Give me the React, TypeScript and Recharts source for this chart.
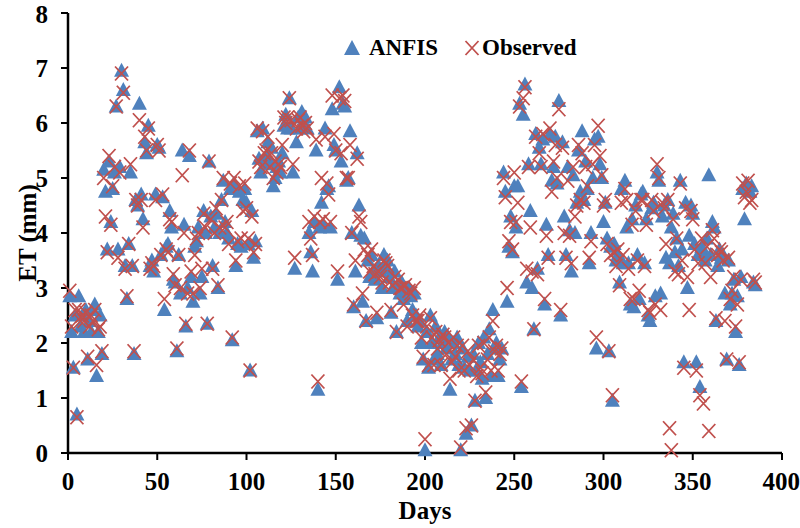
import { Scatter, ScatterChart, XAxis, YAxis } from "recharts"

// ET (mm) per day
const anfis = [
  2.85, 2.2, 1.55, 2.5, 0.7, 2.85, 2.3, 2.5, 2.2, 2.6,
  1.7, 2.4, 2.2, 2.6, 2.7, 1.4, 2.2, 2.5, 1.8, 5.15,
  4.75, 3.7, 5.3, 4.2, 4.8, 5.1, 6.3, 3.7, 5.2, 6.95,
  6.6, 3.4, 2.8, 3.8, 5.1, 3.4, 1.8, 4.6, 4.5, 6.35,
  4.7, 4.25, 5.65, 5.45, 5.95, 3.4, 3.5, 3.3, 4.7, 5.6,
  5.55, 3.6, 4.65, 2.6, 3.75, 3.8, 4.4, 4.1, 3.15, 3.1,
  1.85, 3.6, 2.9, 5.5, 4.15, 2.3, 3.0, 5.4, 3.2, 2.75,
  3.75, 3.85, 4.1, 2.9, 3.2, 4.4, 4.0, 2.35, 5.3, 4.3,
  3.4, 4.1, 4.35, 3.0, 4.0, 4.6, 4.95, 4.2, 4.0, 3.9,
  4.8, 2.05, 4.9, 3.4, 3.8, 4.75, 3.75, 4.6, 4.8, 4.55,
  3.8, 1.5, 4.4, 3.55, 3.85, 5.85, 5.35, 5.1, 5.9, 5.25,
  5.4, 5.65, 5.3, 5.55, 4.85, 5.0, 5.2, 5.3, 5.1, 5.45,
  5.95, 6.15, 5.9, 6.45, 5.9, 5.1, 3.35, 5.65, 6.1, 5.9,
  6.2, 6.0, 6.1, 5.9, 4.0, 3.65, 3.3, 4.2, 5.5, 1.15,
  4.1, 4.55, 4.15, 5.9, 4.8, 4.85, 4.1, 6.25, 5.6, 5.5,
  3.15, 6.65, 5.3, 6.35, 6.3, 4.95, 5.0, 5.85, 4.0, 2.65,
  3.3, 5.45, 4.5, 3.95, 2.75, 3.9, 2.4, 3.5, 3.2, 3.6,
  3.3, 3.15, 2.45, 3.4, 3.3, 3.0, 3.6, 3.35, 3.5, 3.2,
  2.55, 3.0, 3.3, 2.2, 3.05, 2.9, 3.1, 2.8, 2.95, 2.4,
  3.0, 2.85, 2.6, 2.9, 2.5, 2.3, 2.4, 2.0, 1.7, 0.05,
  2.2, 1.55, 2.5, 2.0, 1.7, 2.3, 1.8, 2.1, 1.6, 2.0,
  2.2, 1.9, 2.1, 1.15, 1.7, 2.0, 1.8, 2.1, 1.6, 0.05,
  1.9, 1.55, 0.35, 1.75, 1.5, 0.5, 1.8, 0.95, 1.5, 2.0,
  1.65, 1.35, 2.1, 1.0, 1.8, 2.25, 1.4, 2.6, 1.9, 2.0,
  1.4, 1.7, 1.9, 5.1, 4.75, 2.75, 3.75, 4.3, 3.65, 4.85,
  4.1, 4.85, 6.35, 1.2, 6.15, 6.7, 3.1, 5.25, 4.4, 3.0,
  2.25, 5.8, 3.35, 5.55, 5.25, 5.7, 2.7, 4.15, 3.6, 5.8,
  4.95, 5.2, 5.75, 4.9, 6.4, 2.5, 5.65, 4.3, 3.6, 5.2,
  4.05, 3.3, 5.05, 4.0, 4.55, 5.5, 4.75, 5.85, 4.6, 5.3,
  4.8, 3.45, 4.0, 5.0, 5.7, 1.9, 5.75, 5.25, 5.0, 4.2,
  4.55, 3.9, 1.85, 3.75, 0.95, 3.8, 3.5, 3.6, 3.1, 4.8,
  3.45, 4.95, 4.1, 3.45, 2.7, 4.25, 2.65, 4.5, 3.6, 2.8,
  4.7, 4.75, 3.45, 4.25, 2.5, 2.4, 4.45, 4.55, 2.85, 5.1,
  4.95, 2.9, 4.3, 4.5, 3.55, 4.6, 3.45, 4.1, 4.35, 3.65,
  3.9, 3.4, 4.95, 3.7, 1.65, 4.55, 3.0, 3.95, 4.5, 4.35,
  3.8, 1.65, 3.6, 1.2, 3.75, 3.65, 3.5, 3.9, 5.05, 3.6,
  4.2, 4.1, 2.4, 3.4, 3.7, 3.55, 3.6, 2.9, 1.7, 3.5,
  2.7, 2.9, 3.15, 2.2, 2.85, 1.6, 3.2, 4.8, 4.25, 4.9,
  4.8, 4.75, 4.85, 3.1, 3.05,
]

const observed = [
  2.95, 2.3, 1.55, 2.6, 0.65, 2.6, 2.4, 2.5, 2.4, 2.55,
  1.75, 2.3, 2.5, 2.4, 2.6, 1.6, 2.25, 2.3, 1.85, 5.0,
  4.3, 3.65, 5.4, 4.15, 4.85, 5.2, 6.3, 3.55, 5.1, 6.9,
  6.55, 3.35, 2.85, 3.8, 5.25, 3.4, 1.85, 4.6, 4.5, 6.05,
  4.6, 4.1, 5.75, 5.5, 5.9, 3.35, 3.45, 3.4, 4.6, 5.6,
  5.5, 3.6, 4.7, 2.8, 3.7, 3.65, 4.25, 4.2, 3.25, 3.05,
  1.9, 3.6, 3.0, 5.05, 4.0, 2.35, 2.9, 5.5, 3.3, 2.9,
  3.6, 3.9, 4.0, 3.0, 3.35, 4.35, 4.1, 2.35, 5.3, 4.25,
  3.35, 4.0, 4.45, 3.05, 4.1, 4.6, 5.0, 4.1, 4.2, 3.8,
  4.9, 2.1, 5.0, 3.5, 3.85, 4.85, 3.9, 4.4, 4.9, 4.45,
  3.9, 1.5, 4.3, 3.65, 3.8, 5.9, 5.3, 5.2, 5.85, 5.45,
  5.5, 5.75, 5.2, 5.45, 5.0, 5.3, 5.1, 5.25, 5.2, 5.6,
  6.1, 6.0, 6.1, 6.45, 6.05, 5.25, 3.55, 5.9, 6.05, 6.1,
  5.95, 5.85, 6.0, 5.9, 4.2, 3.9, 3.6, 4.3, 5.7, 1.3,
  4.2, 5.0, 4.25, 5.75, 4.9, 4.7, 4.2, 6.5, 5.8, 5.5,
  3.3, 6.45, 5.45, 6.5, 6.4, 5.0, 5.0, 5.6, 4.0, 2.7,
  3.5, 5.35, 4.3, 4.2, 2.9, 3.7, 2.4, 3.6, 3.3, 3.7,
  3.4, 3.25, 2.55, 3.3, 3.2, 3.1, 3.5, 3.45, 3.4, 3.1,
  2.6, 3.05, 3.2, 2.2, 3.15, 3.0, 3.0, 2.7, 3.05, 2.3,
  2.95, 2.9, 2.5, 3.0, 2.4, 2.4, 2.5, 2.1, 1.75, 0.25,
  2.3, 1.6, 2.45, 2.1, 1.6, 2.2, 1.9, 2.05, 1.6, 2.15,
  2.1, 1.8, 2.0, 1.35, 1.65, 2.1, 1.75, 1.95, 1.5, 0.1,
  1.95, 1.5, 0.45, 1.85, 1.6, 0.5, 1.7, 0.95, 1.4, 1.95,
  1.55, 1.45, 2.0, 1.1, 1.7, 2.1, 1.5, 2.4, 1.85, 1.95,
  1.5, 1.8, 1.9, 5.0, 4.65, 3.0, 3.85, 4.2, 3.7, 5.1,
  4.2, 4.55, 6.3, 1.3, 6.45, 6.65, 3.35, 5.2, 4.1, 3.3,
  2.25, 5.75, 3.25, 5.45, 5.2, 5.8, 2.8, 3.95, 3.55, 5.9,
  4.75, 5.3, 5.6, 5.0, 6.25, 2.6, 5.55, 4.0, 3.55, 4.95,
  3.95, 3.45, 5.2, 4.3, 4.5, 5.6, 4.6, 5.45, 4.55, 5.2,
  4.85, 3.55, 3.85, 5.25, 5.6, 2.1, 5.95, 5.4, 5.05, 4.5,
  4.6, 3.8, 1.85, 3.6, 1.05, 3.65, 3.4, 3.7, 3.05, 4.55,
  3.6, 4.8, 4.6, 3.35, 2.8, 4.15, 2.8, 4.4, 3.5, 2.95,
  4.6, 4.6, 3.4, 4.15, 2.6, 2.55, 4.6, 4.4, 2.7, 5.25,
  5.0, 2.6, 4.55, 4.45, 3.8, 4.6, 0.45, 0.05, 4.25, 3.3,
  3.9, 3.25, 4.9, 3.5, 1.55, 4.45, 3.2, 2.6, 4.4, 4.25,
  3.7, 1.5, 3.45, 1.05, 3.9, 0.9, 3.45, 3.75, 0.4, 3.2,
  4.05, 3.9, 2.45, 3.6, 3.7, 3.65, 3.5, 2.4, 1.7, 3.55,
  2.8, 2.95, 3.2, 2.3, 2.7, 1.65, 3.15, 4.9, 4.65, 4.75,
  4.95, 4.55, 4.6, 3.15, 3.1,
]

const xTicks = [0, 50, 100, 150, 200, 250, 300, 350, 400]
const yTicks = [0, 1, 2, 3, 4, 5, 6, 7, 8]

const BLUE = "#4F81BD"
const RED = "#C0504D"
const FONT = "'Liberation Serif', 'Times New Roman', serif"

const anfisData = anfis.map((et, i) => ({ day: i + 1, et }))
const observedData = observed.map((et, i) => ({ day: i + 1, et }))

const tickStyle = { fontSize: 25, fontWeight: 700, fill: "#000", fontFamily: FONT }

const Triangle = (props: any) => {
  const { cx, cy } = props
  return <path d={`M${cx},${cy - 8} L${cx + 7.5},${cy + 6} L${cx - 7.5},${cy + 6} Z`} fill={BLUE} />
}

const Cross = (props: any) => {
  const { cx, cy } = props
  return (
    <path
      d={`M${cx - 6.5},${cy - 7} L${cx + 6.5},${cy + 7} M${cx + 6.5},${cy - 7} L${cx - 6.5},${cy + 7}`}
      stroke={RED}
      strokeWidth={1.8}
      fill="none"
    />
  )
}

function LegendBox() {
  return (
    <div
      style={{
        position: "absolute", left: 343, top: 34, display: "flex", alignItems: "center",
        fontFamily: FONT, fontWeight: 700, fontSize: 23, color: "#000", lineHeight: "28px",
      }}
    >
      <svg width={18} height={18}><path d="M9,1 L17,16 L1,16 Z" fill={BLUE} /></svg>
      <span style={{ marginLeft: 8 }}>ANFIS</span>
      <svg width={16} height={18} style={{ marginLeft: 26 }}>
        <path d="M1.5,2 L14.5,16 M14.5,2 L1.5,16" stroke={RED} strokeWidth={1.8} />
      </svg>
      <span style={{ marginLeft: 2 }}>Observed</span>
    </div>
  )
}

export default function App() {
  return (
    <div style={{ position: "absolute", left: 0, top: 0, width: 800, height: 528 }}>
      <ScatterChart width={800} height={528} margin={{ top: 13, right: 18, bottom: 15, left: 0 }}>
        <XAxis
          dataKey="day"
          type="number"
          domain={[0, 400]}
          ticks={xTicks}
          height={60}
          tick={tickStyle}
          tickSize={7}
          tickMargin={12}
          tickLine={{ stroke: "#000", strokeWidth: 2 }}
          axisLine={{ stroke: "#000", strokeWidth: 2.5 }}
          label={(p: any) => (
            <text
              x={p.viewBox.x + p.viewBox.width / 2}
              y={p.viewBox.y + 66}
              textAnchor="middle"
              style={{ fontSize: 25, fontWeight: 700, fontFamily: FONT }}
            >
              Days
            </text>
          )}
        />
        <XAxis xAxisId="top" orientation="top" type="number" domain={[0, 400]} height={0} tick={false} tickLine={false} axisLine={{ stroke: "#000", strokeWidth: 1.5 }} />
        <YAxis
          dataKey="et"
          type="number"
          domain={[0, 8]}
          ticks={yTicks}
          width={68}
          tick={tickStyle}
          tickSize={7}
          tickMargin={13}
          tickLine={{ stroke: "#000", strokeWidth: 2 }}
          axisLine={{ stroke: "#000", strokeWidth: 2.5 }}
          label={(p: any) => {
            const x = 27
            const y = p.viewBox.y + p.viewBox.height / 2
            return (
              <text
                x={x}
                y={y}
                transform={`rotate(-90, ${x}, ${y})`}
                textAnchor="middle"
                dominantBaseline="central"
                style={{ fontSize: 25, fontWeight: 700, fontFamily: FONT }}
              >
                ET (mm)
              </text>
            )
          }}
        />
        <YAxis yAxisId="right" orientation="right" type="number" domain={[0, 8]} width={0} tick={false} tickLine={false} axisLine={{ stroke: "#000", strokeWidth: 1.5 }} />
        <Scatter name="ANFIS" data={anfisData} shape={<Triangle />} isAnimationActive={false} />
        <Scatter name="Observed" data={observedData} shape={<Cross />} isAnimationActive={false} />
      </ScatterChart>
      <LegendBox />
    </div>
  )
}
